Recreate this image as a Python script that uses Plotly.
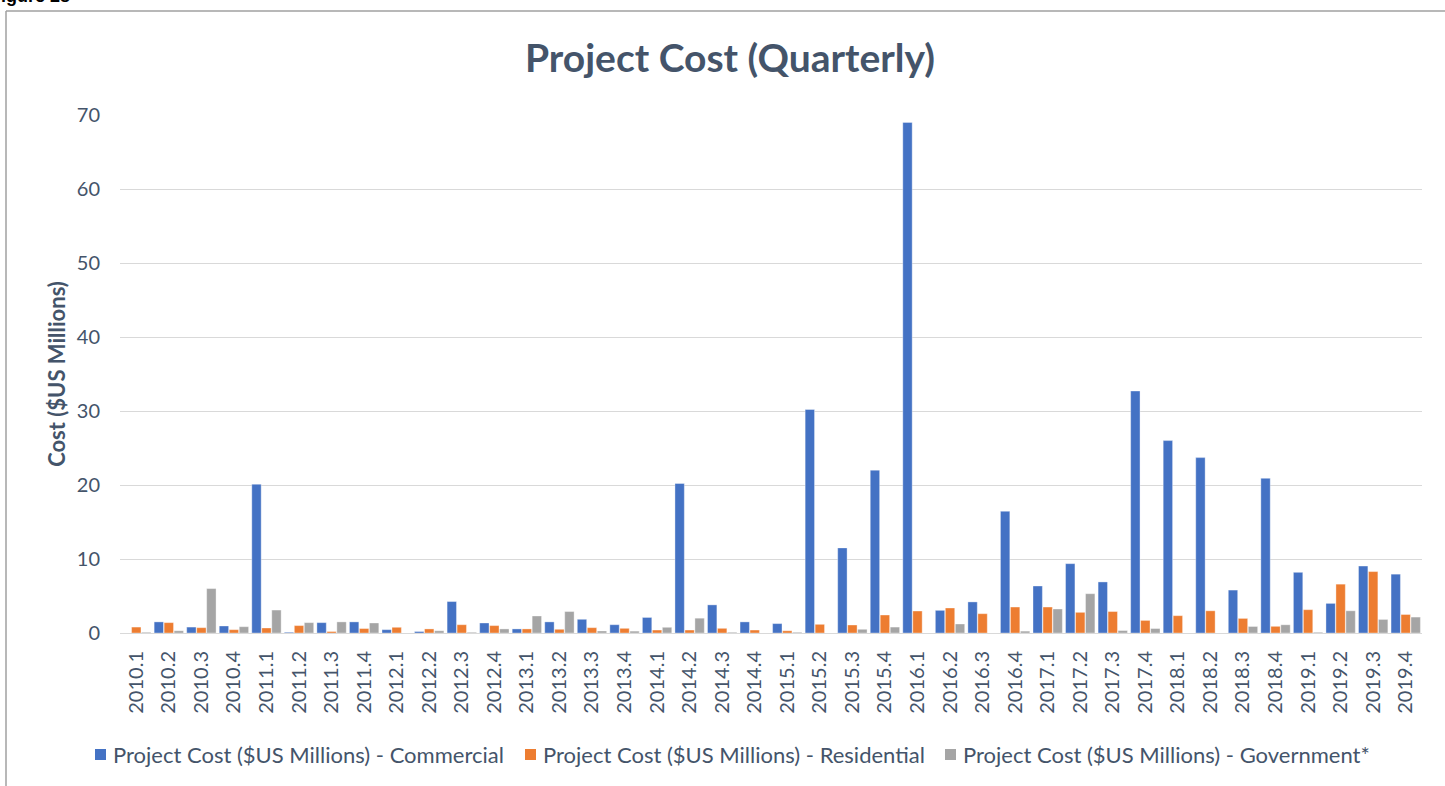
import plotly.graph_objects as go

quarters = [f"{y}.{q}" for y in range(2010, 2020) for q in range(1, 5)]

commercial = [0.0, 1.5, 0.8, 0.95, 20.1, 0.1, 1.4, 1.5, 0.45, 0.2,
              4.25, 1.35, 0.55, 1.5, 1.85, 1.12, 2.1, 20.2, 3.8, 1.5,
              1.27, 30.2, 11.5, 22.0, 69.0, 3.06, 4.2, 16.45, 6.35, 9.37,
              6.9, 32.7, 26.0, 23.7, 5.8, 20.9, 8.2, 4.0, 9.05, 7.95]
residential = [0.8, 1.4, 0.72, 0.45, 0.68, 1.0, 0.2, 0.6, 0.77, 0.55,
               1.12, 1.0, 0.55, 0.5, 0.72, 0.63, 0.4, 0.4, 0.63, 0.4,
               0.3, 1.17, 1.08, 2.43, 2.97, 3.38, 2.61, 3.51, 3.51, 2.79,
               2.9, 1.7, 2.34, 3.0, 1.97, 0.9, 3.15, 6.6, 8.3, 2.5]
government = [0.1, 0.3, 6.0, 0.85, 3.1, 1.4, 1.5, 1.35, 0.0, 0.3,
              0.1, 0.55, 2.3, 2.9, 0.27, 0.25, 0.77, 2.0, 0.1, 0.0,
              0.1, 0.0, 0.5, 0.8, 0.0, 1.22, 0.0, 0.25, 3.24, 5.31,
              0.33, 0.6, 0.0, 0.0, 0.88, 1.11, 0.1, 3.0, 1.83, 2.15]

series_names = ["Project Cost ($US Millions) - Commercial",
                "Project Cost ($US Millions) - Residential",
                "Project Cost ($US Millions) - Government*"]
colors = ["#4472C4", "#ED7D31", "#A5A5A5"]

FONT = "Lato"
TXT = "#44546A"

fig = go.Figure()
for name, vals, col in zip(series_names, [commercial, residential, government], colors):
    fig.add_trace(go.Bar(x=quarters, y=vals, name=name, showlegend=False,
                         marker=dict(color=col, line=dict(color="rgba(255,255,255,0.6)", width=0.6))))

W, H = 1445, 786
L, R, T, B = 120, 23, 115, 153
pw, ph = W - L - R, H - T - B

def px(x):
    return (x - L) / pw

def py(y):
    return (H - B - y) / ph

# manual legend (square swatch + label)
leg_sq_x = [95, 525, 945]
leg_y = 754
shapes = [
    dict(type="line", xref="paper", yref="paper", x0=px(6), x1=px(6), y0=py(11), y1=py(790),
         line=dict(color="#A0A0A0", width=1.5)),
    dict(type="line", xref="paper", yref="paper", x0=px(6), x1=px(1450), y0=py(11), y1=py(11),
         line=dict(color="#A0A0A0", width=1.5)),
]
annotations = [
    dict(text="<b>Figure 28</b>", xref="paper", yref="paper", x=px(72), y=py(8),
         xanchor="right", yanchor="bottom", showarrow=False,
         font=dict(size=18, color="black", family="Liberation Sans")),
]
for sx, name, col in zip(leg_sq_x, series_names, colors):
    shapes.append(dict(type="rect", xref="paper", yref="paper",
                       x0=px(sx), x1=px(sx + 11), y0=py(leg_y + 6), y1=py(leg_y - 5),
                       fillcolor=col, line=dict(width=0)))
    annotations.append(dict(text=name, xref="paper", yref="paper", x=px(sx + 16), y=py(leg_y),
                            xanchor="left", yanchor="middle", showarrow=False,
                            font=dict(size=22, color=TXT, family=FONT)))

fig.update_layout(
    width=W, height=H,
    margin=dict(l=L, r=R, t=T, b=B),
    paper_bgcolor="white", plot_bgcolor="white",
    font=dict(family=FONT, color=TXT),
    barmode="group", bargap=0.08, bargroupgap=0.06,
    title=dict(text="<b>Project Cost (Quarterly)</b>", x=730 / W, xanchor="center",
               y=1 - 58 / H, yanchor="middle", font=dict(size=39, color=TXT, family=FONT)),
    showlegend=False,
    xaxis=dict(tickangle=-90, tickfont=dict(size=20, color=TXT), showgrid=False,
               showline=True, linecolor="#D9D9D9", linewidth=1, ticks="",
               ticklabelstandoff=9),
    yaxis=dict(range=[0, 70], dtick=10, tickfont=dict(size=20, color=TXT),
               gridcolor="#D9D9D9", gridwidth=1, zeroline=False, showline=False,
               ticklabelstandoff=19,
               title=dict(text="<b>Cost ($US Millions)</b>", font=dict(size=22, color=TXT), standoff=5)),
    shapes=shapes,
    annotations=annotations,
)

fig.write_html("out.html", config={"displayModeBar": False},
               post_script="document.body.style.margin='0';document.body.style.padding='0';")
